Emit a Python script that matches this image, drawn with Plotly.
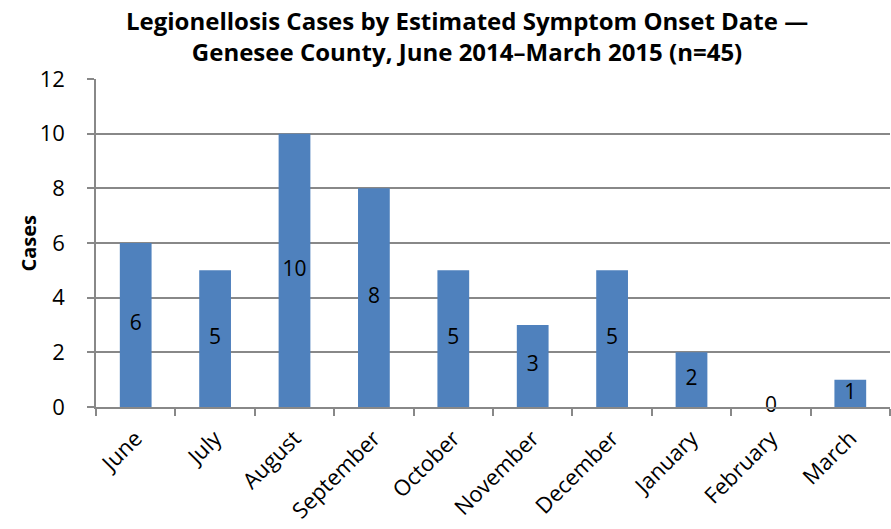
import plotly.graph_objects as go

months = ["June", "July", "August", "September", "October", "November",
          "December", "January", "February", "March"]
cases = [6, 5, 10, 8, 5, 3, 5, 2, 0, 1]
y_ticks = [0, 2, 4, 6, 8, 10, 12]

FONT = "Open Sans"

fig = go.Figure()
fig.add_trace(go.Bar(
    x=months, y=cases,
    marker=dict(color="#4F81BD", line=dict(width=0)),
    width=0.4, showlegend=False, hoverinfo="x+y",
))
fig.add_trace(go.Scatter(
    x=months, y=[v / 2 for v in cases], mode="text",
    text=[str(v) for v in cases],
    textfont=dict(family=FONT, size=21, color="black"),
    cliponaxis=False,
    showlegend=False, hoverinfo="skip",
))

fig.update_layout(
    width=891, height=529,
    margin=dict(l=96, r=1, t=79, b=122, autoexpand=False),
    paper_bgcolor="white", plot_bgcolor="white",
    font=dict(family=FONT, color="black"),
    annotations=[
        dict(
            text="<b>Legionellosis Cases by Estimated Symptom Onset Date —<br>Genesee County, June 2014–March 2015 (n=45)</b>",
            xref="paper", yref="paper", x=0.467, y=1, xanchor="center",
            yanchor="bottom", yshift=9, showarrow=False, align="center",
            font=dict(family=FONT, size=24, color="black"),
        ),
        dict(
            text="<b>Cases</b>", xref="paper", yref="paper", x=0, y=0.5,
            xshift=-84, textangle=-90, showarrow=False,
            font=dict(family=FONT, size=20, color="black"),
        ),
    ],
)
fig.update_xaxes(
    type="category", tickson="boundaries", ticks="outside", ticklen=7,
    tickcolor="#888888", tickwidth=1.5, automargin=False,
    showline=True, linecolor="#888888", linewidth=1.5,
    tickangle=-45, tickfont=dict(family=FONT, size=22, color="black"),
    ticklabelstandoff=8,
    showgrid=False,
)
fig.update_yaxes(
    range=[0, 12], tickvals=y_ticks, ticks="outside", ticklen=7,
    tickcolor="#888888", tickwidth=1.5, automargin=False,
    showline=True, linecolor="#888888", linewidth=1.5,
    showgrid=True, gridcolor="#888888", gridwidth=1.5,
    zeroline=False, ticklabelstandoff=18,
    tickfont=dict(family=FONT, size=22, color="black"),
)

fig.write_html(
    "out.html",
    config={"displayModeBar": False},
    post_script="document.body.style.margin='0';document.body.style.overflow='hidden';",
)
